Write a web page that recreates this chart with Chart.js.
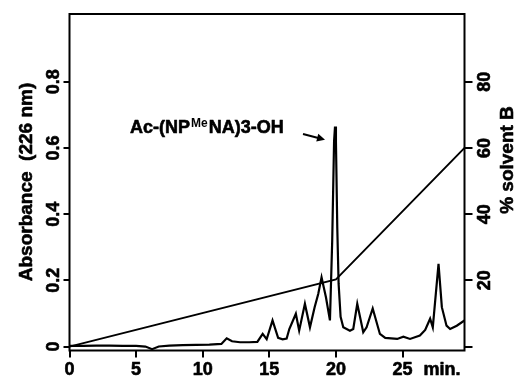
<!DOCTYPE html>
<html lang="en">
<head>
    <meta charset="UTF-8">
    <title>HPLC Trace</title>
    <script src="https://cdn.jsdelivr.net/npm/chart.js"></script>
    <style>
        html, body { margin: 0; padding: 0; background: #fff; }
        #wrap { width: 519px; height: 379px; position: relative; }
    </style>
</head>
<body>
    <div id="wrap">
        <canvas id="hplcChart"></canvas>
    </div>

    <script>
        // Absorbance trace (time in min, absorbance at 226 nm)
        const timeMin = [0, 1, 2, 3, 4, 5, 5.7, 6.2, 6.7, 7.5, 8.5, 9.5, 10.5, 11.4, 11.8, 12.2, 12.8, 13.5, 14.1,
            14.5, 14.8, 15.24, 15.66, 16.0, 16.3, 16.5, 16.99, 17.24, 17.67, 18.05, 18.4, 18.67, 18.92, 19.25,
            19.55, 19.72, 19.86, 19.93, 20.0, 20.1, 20.2, 20.35, 20.55, 21.05, 21.3, 21.6, 22.05, 22.3, 22.76,
            23.3, 23.7, 24.6, 25.06, 25.56, 26.3, 26.7, 27.07, 27.27, 27.7, 27.95, 28.3, 28.57, 29.07, 29.65];
        const absorbance = [0.002, 0.002, 0.003, 0.003, 0.002, 0.002, 0.0, -0.008, 0.0, 0.003, 0.004, 0.005, 0.006, 0.008, 0.025, 0.016, 0.013, 0.013, 0.014,
            0.038, 0.022, 0.079, 0.026, 0.022, 0.024, 0.053, 0.099, 0.048, 0.129, 0.058, 0.119, 0.159, 0.209, 0.149,
            0.079, 0.32, 0.62, 0.665, 0.62, 0.36, 0.19, 0.09, 0.058, 0.048, 0.053, 0.129, 0.043, 0.058, 0.115,
            0.038, 0.026, 0.023, 0.030, 0.023, 0.033, 0.050, 0.084, 0.058, 0.25, 0.119, 0.063, 0.053, 0.063, 0.079];

        // Solvent gradient (% B)
        const gradientTime = [0, 20, 29.65];
        const gradientB = [0, 20.3, 60];

        // Tick values
        const xTicks = [0, 5, 10, 15, 20, 25];
        const xTickLabels = ['0', '5', '10', '15', '20', '25'];
        const absTicks = [0, 0.2, 0.4, 0.6, 0.8];
        const absTickLabels = ['0', '0.2', '0.4', '0.6', '0.8'];
        const solventTicks = [0, 20, 40, 60, 80];
        const solventTickLabels = ['', '20', '40', '60', '80'];

        const FONT = '"Liberation Sans", Arial, Helvetica, sans-serif';

        function toPoints(xs, ys) {
            return xs.map((x, i) => ({ x: x, y: ys[i] }));
        }

        // heavy print-style text: fill plus a thin stroke
        function heavyText(ctx, text, x, y) {
            ctx.fillText(text, x, y);
            ctx.strokeText(text, x, y);
        }

        function rotatedText(ctx, text, x, y) {
            ctx.save();
            ctx.translate(x, y);
            ctx.rotate(-Math.PI / 2);
            heavyText(ctx, text, 0, 0);
            ctx.restore();
        }

        // frame, tick labels, axis titles and the peak annotation
        const decorations = {
            id: 'decorations',
            afterDraw(chart) {
                const ctx = chart.ctx;
                const area = chart.chartArea;
                const xs = chart.scales.x, ys = chart.scales.y, y2 = chart.scales.y2;
                ctx.save();
                ctx.strokeStyle = '#000';
                ctx.lineWidth = 2;
                ctx.strokeRect(area.left, area.top, area.right - area.left, area.bottom - area.top);

                ctx.fillStyle = '#000';
                ctx.lineWidth = 0.6;
                ctx.lineJoin = 'round';
                ctx.font = 'bold 18px ' + FONT;
                ctx.textAlign = 'center';
                ctx.textBaseline = 'middle';

                absTicks.forEach((v, i) => {
                    rotatedText(ctx, absTickLabels[i], area.left - 15, ys.getPixelForValue(v));
                });
                solventTicks.forEach((v, i) => {
                    if (solventTickLabels[i]) rotatedText(ctx, solventTickLabels[i], area.right + 21, y2.getPixelForValue(v));
                });
                xTicks.forEach((v, i) => {
                    heavyText(ctx, xTickLabels[i], xs.getPixelForValue(v), 370);
                });
                heavyText(ctx, 'min.', 442, 370);

                // axis titles
                ctx.font = 'bold 19px ' + FONT;
                rotatedText(ctx, 'Absorbance  (226 nm)', 27, 182);
                rotatedText(ctx, '% solvent B', 508, 160);

                // peak label with superscript
                const big = 'bold 18px ' + FONT, small = 'bold 12px ' + FONT;
                let tx = 130;
                const base = 133;
                ctx.textAlign = 'left';
                ctx.textBaseline = 'alphabetic';
                ctx.font = big;
                heavyText(ctx, 'Ac-(NP', tx, base);
                tx += ctx.measureText('Ac-(NP').width + 1;
                ctx.font = small;
                ctx.fillText('Me', tx, base - 6);
                tx += ctx.measureText('Me').width + 1;
                ctx.font = big;
                heavyText(ctx, 'NA)3-OH', tx, base);

                // arrow toward the main peak
                const ax0 = 303, ay0 = 134;
                const ax1 = xs.getPixelForValue(19.18), ay1 = ys.getPixelForValue(0.625);
                const ang = Math.atan2(ay1 - ay0, ax1 - ax0);
                ctx.lineWidth = 2;
                ctx.beginPath();
                ctx.moveTo(ax0, ay0);
                ctx.lineTo(ax1 - 4 * Math.cos(ang), ay1 - 4 * Math.sin(ang));
                ctx.stroke();
                ctx.beginPath();
                ctx.moveTo(ax1, ay1);
                ctx.lineTo(ax1 - 8 * Math.cos(ang) + 4 * Math.sin(ang), ay1 - 8 * Math.sin(ang) - 4 * Math.cos(ang));
                ctx.lineTo(ax1 - 8 * Math.cos(ang) - 4 * Math.sin(ang), ay1 - 8 * Math.sin(ang) + 4 * Math.cos(ang));
                ctx.closePath();
                ctx.fill();
                ctx.restore();
            }
        };

        function initChart() {
            const ctx = document.getElementById('hplcChart').getContext('2d');
            new Chart(ctx, {
                type: 'scatter',
                data: {
                    datasets: [{
                        label: 'Absorbance',
                        data: toPoints(timeMin, absorbance),
                        showLine: true,
                        borderColor: '#000',
                        borderWidth: 2.2,
                        pointRadius: 0,
                        tension: 0,
                        yAxisID: 'y'
                    }, {
                        label: '% B',
                        data: toPoints(gradientTime, gradientB),
                        showLine: true,
                        borderColor: '#000',
                        borderWidth: 1.8,
                        pointRadius: 0,
                        tension: 0,
                        yAxisID: 'y2'
                    }]
                },
                options: {
                    responsive: true,
                    maintainAspectRatio: false,
                    animation: false,
                    layout: { padding: { top: 14, left: 0, right: 0, bottom: 0 } },
                    plugins: {
                        legend: { display: false },
                        tooltip: { enabled: false }
                    },
                    scales: {
                        x: {
                            type: 'linear',
                            min: 0,
                            max: 29.65,
                            afterBuildTicks: s => { s.ticks = xTicks.map(v => ({ value: v })); },
                            afterFit: s => { s.height = 28.5; },
                            grid: { drawOnChartArea: false, color: '#000', lineWidth: 2, tickLength: 7 },
                            border: { display: false },
                            ticks: { color: 'rgba(0,0,0,0)', maxRotation: 0 }
                        },
                        y: {
                            position: 'left',
                            min: -0.012,
                            max: 1.005,
                            afterBuildTicks: s => { s.ticks = absTicks.map(v => ({ value: v })); },
                            afterFit: s => { s.width = 69.5; },
                            grid: { drawOnChartArea: false, color: '#000', lineWidth: 2, tickLength: 6 },
                            border: { display: false },
                            ticks: { color: 'rgba(0,0,0,0)' }
                        },
                        y2: {
                            position: 'right',
                            min: -1.2,
                            max: 100.5,
                            afterBuildTicks: s => { s.ticks = solventTicks.map(v => ({ value: v })); },
                            afterFit: s => { s.width = 54.5; },
                            grid: { drawOnChartArea: false, color: '#000', lineWidth: 2, tickLength: 8 },
                            border: { display: false },
                            ticks: { color: 'rgba(0,0,0,0)' }
                        }
                    }
                },
                plugins: [decorations]
            });
        }

        document.addEventListener('DOMContentLoaded', initChart);
    </script>
</body>
</html>
